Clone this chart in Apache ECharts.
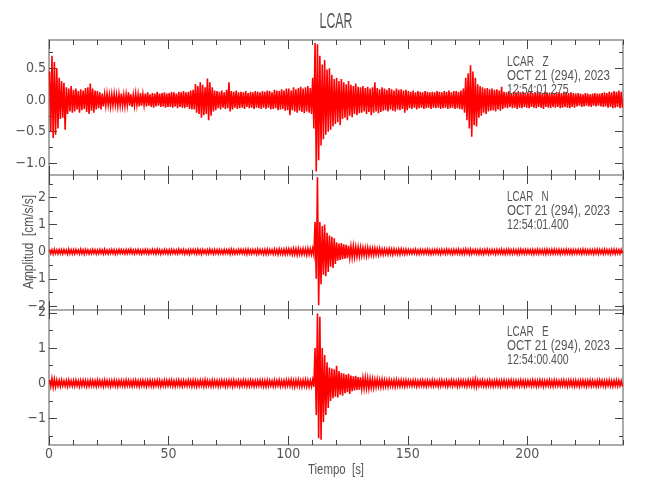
<!DOCTYPE html>
<html><head><meta charset="utf-8">
<script src="https://cdn.jsdelivr.net/npm/echarts@6/dist/echarts.min.js"></script>
<style>html,body{margin:0;padding:0;background:#fff}#c{width:650px;height:500px}</style>
</head><body><div id="c"></div>
<script>
// ---------- DATA (per 1-second bin: upper and lower envelope of the trace) ----------
const timeMin = 0, timeMax = 240;
const zHi = [
0.45,0.70,0.60,0.50,0.35,0.30,0.27,0.20,0.18,0.22,
0.16,0.18,0.14,0.17,0.15,0.19,0.20,0.26,0.18,0.15,
0.14,0.12,0.10,0.09,0.10,0.08,0.09,0.10,0.08,0.09,
0.10,0.08,0.09,0.12,0.09,0.08,0.10,0.09,0.11,0.09,
0.10,0.12,0.09,0.11,0.10,0.13,0.10,0.11,0.12,0.10,
0.11,0.13,0.12,0.10,0.13,0.12,0.14,0.12,0.13,0.15,
0.16,0.25,0.22,0.28,0.24,0.20,0.34,0.28,0.20,0.15,
0.14,0.13,0.15,0.12,0.16,0.28,0.14,0.13,0.15,0.12,
0.13,0.12,0.14,0.11,0.13,0.12,0.14,0.13,0.12,0.14,
0.13,0.15,0.14,0.12,0.16,0.15,0.14,0.17,0.15,0.18,
0.18,0.15,0.20,0.17,0.19,0.21,0.18,0.20,0.22,0.19,
0.35,0.90,0.88,0.70,0.56,0.63,0.48,0.50,0.40,0.33,
0.35,0.30,0.33,0.28,0.25,0.30,0.24,0.22,0.26,0.21,
0.20,0.22,0.19,0.21,0.18,0.20,0.28,0.19,0.17,0.20,
0.18,0.16,0.19,0.17,0.15,0.18,0.16,0.17,0.15,0.16,
0.14,0.13,0.15,0.12,0.14,0.13,0.12,0.14,0.13,0.12,
0.13,0.12,0.14,0.13,0.12,0.14,0.13,0.15,0.12,0.14,
0.14,0.13,0.15,0.18,0.35,0.42,0.55,0.45,0.35,0.25,
0.22,0.20,0.18,0.19,0.17,0.18,0.16,0.17,0.15,0.21,
0.13,0.12,0.14,0.11,0.13,0.12,0.14,0.12,0.13,0.11,
0.12,0.13,0.11,0.12,0.14,0.12,0.11,0.13,0.12,0.11,
0.12,0.11,0.13,0.12,0.11,0.12,0.13,0.11,0.12,0.11,
0.10,0.11,0.10,0.09,0.11,0.10,0.09,0.10,0.11,0.10,
0.10,0.11,0.12,0.11,0.13,0.12,0.14,0.13,0.15,0.13];
const zLo = [
-0.50,-0.60,-0.55,-0.45,-0.30,-0.28,-0.47,-0.22,-0.18,-0.20,
-0.18,-0.15,-0.20,-0.16,-0.14,-0.19,-0.22,-0.17,-0.20,-0.15,
-0.13,-0.15,-0.10,-0.09,-0.08,-0.10,-0.09,-0.08,-0.10,-0.09,
-0.09,-0.10,-0.08,-0.09,-0.11,-0.09,-0.08,-0.10,-0.09,-0.08,
-0.10,-0.09,-0.11,-0.12,-0.10,-0.09,-0.11,-0.10,-0.12,-0.11,
-0.11,-0.12,-0.10,-0.13,-0.11,-0.12,-0.13,-0.11,-0.14,-0.15,
-0.15,-0.20,-0.22,-0.28,-0.24,-0.22,-0.32,-0.25,-0.18,-0.16,
-0.13,-0.15,-0.12,-0.14,-0.13,-0.18,-0.15,-0.12,-0.14,-0.13,
-0.12,-0.14,-0.11,-0.13,-0.12,-0.14,-0.12,-0.13,-0.14,-0.12,
-0.14,-0.12,-0.15,-0.14,-0.13,-0.16,-0.15,-0.14,-0.17,-0.16,
-0.24,-0.16,-0.18,-0.20,-0.17,-0.19,-0.21,-0.18,-0.20,-0.22,
-0.45,-1.13,-0.95,-0.72,-0.62,-0.55,-0.50,-0.47,-0.42,-0.38,
-0.35,-0.40,-0.30,-0.28,-0.32,-0.25,-0.27,-0.22,-0.24,-0.21,
-0.20,-0.18,-0.22,-0.19,-0.24,-0.20,-0.18,-0.21,-0.19,-0.17,
-0.16,-0.18,-0.15,-0.17,-0.18,-0.15,-0.16,-0.14,-0.20,-0.16,
-0.13,-0.14,-0.12,-0.15,-0.13,-0.12,-0.14,-0.13,-0.12,-0.14,
-0.12,-0.13,-0.12,-0.14,-0.13,-0.12,-0.14,-0.13,-0.12,-0.14,
-0.13,-0.14,-0.15,-0.20,-0.32,-0.45,-0.58,-0.40,-0.42,-0.28,
-0.25,-0.20,-0.22,-0.18,-0.17,-0.16,-0.18,-0.15,-0.17,-0.14,
-0.12,-0.13,-0.11,-0.13,-0.12,-0.14,-0.12,-0.13,-0.11,-0.12,
-0.13,-0.11,-0.12,-0.13,-0.11,-0.12,-0.14,-0.11,-0.12,-0.13,
-0.11,-0.12,-0.11,-0.13,-0.12,-0.11,-0.12,-0.13,-0.11,-0.12,
-0.10,-0.09,-0.11,-0.10,-0.09,-0.10,-0.11,-0.09,-0.10,-0.09,
-0.10,-0.11,-0.10,-0.12,-0.11,-0.13,-0.12,-0.11,-0.13,-0.12];
const nHi = [
0.08,0.07,0.09,0.06,0.08,0.07,0.08,0.06,0.09,0.07,
0.07,0.08,0.06,0.09,0.07,0.08,0.07,0.06,0.08,0.07,
0.06,0.08,0.07,0.09,0.06,0.07,0.08,0.07,0.06,0.08,
0.07,0.06,0.08,0.07,0.09,0.06,0.07,0.08,0.06,0.07,
0.08,0.07,0.06,0.08,0.07,0.09,0.07,0.06,0.08,0.07,
0.07,0.08,0.07,0.06,0.09,0.07,0.08,0.06,0.07,0.08,
0.08,0.07,0.09,0.07,0.08,0.06,0.07,0.09,0.07,0.08,
0.07,0.08,0.06,0.08,0.07,0.08,0.09,0.07,0.06,0.08,
0.08,0.07,0.08,0.09,0.07,0.08,0.07,0.09,0.08,0.07,
0.08,0.09,0.08,0.07,0.09,0.08,0.10,0.08,0.09,0.10,
0.10,0.09,0.11,0.10,0.12,0.09,0.11,0.10,0.12,0.11,
0.12,1.10,2.75,1.10,0.95,1.00,0.70,0.60,0.55,0.50,
0.35,0.30,0.32,0.27,0.25,0.22,0.20,0.21,0.18,0.17,
0.16,0.15,0.14,0.15,0.13,0.12,0.13,0.11,0.12,0.10,
0.10,0.09,0.11,0.09,0.10,0.08,0.09,0.10,0.08,0.09,
0.08,0.07,0.08,0.09,0.07,0.08,0.07,0.08,0.09,0.07,
0.07,0.08,0.09,0.07,0.08,0.07,0.09,0.08,0.07,0.08,
0.08,0.09,0.07,0.08,0.10,0.08,0.09,0.07,0.08,0.07,
0.08,0.07,0.08,0.09,0.07,0.08,0.07,0.08,0.07,0.09,
0.07,0.08,0.09,0.07,0.08,0.07,0.08,0.09,0.07,0.08,
0.08,0.07,0.08,0.07,0.09,0.08,0.07,0.08,0.09,0.07,
0.08,0.09,0.07,0.08,0.07,0.08,0.09,0.07,0.08,0.07,
0.07,0.08,0.07,0.09,0.08,0.07,0.08,0.07,0.08,0.09,
0.08,0.07,0.09,0.08,0.07,0.08,0.09,0.08,0.07,0.08];
const nLo = [
-0.07,-0.09,-0.06,-0.08,-0.07,-0.08,-0.06,-0.09,-0.07,-0.08,
-0.08,-0.06,-0.08,-0.07,-0.09,-0.06,-0.08,-0.07,-0.06,-0.08,
-0.07,-0.06,-0.08,-0.07,-0.08,-0.06,-0.07,-0.09,-0.07,-0.06,
-0.06,-0.08,-0.07,-0.06,-0.07,-0.08,-0.06,-0.07,-0.08,-0.06,
-0.07,-0.08,-0.06,-0.07,-0.08,-0.06,-0.09,-0.07,-0.06,-0.08,
-0.08,-0.06,-0.07,-0.08,-0.06,-0.07,-0.08,-0.07,-0.09,-0.06,
-0.07,-0.08,-0.07,-0.09,-0.06,-0.08,-0.07,-0.06,-0.08,-0.07,
-0.08,-0.07,-0.08,-0.06,-0.07,-0.09,-0.07,-0.08,-0.07,-0.06,
-0.07,-0.08,-0.09,-0.07,-0.08,-0.07,-0.09,-0.08,-0.07,-0.09,
-0.09,-0.08,-0.07,-0.09,-0.08,-0.10,-0.08,-0.09,-0.10,-0.08,
-0.09,-0.11,-0.10,-0.12,-0.10,-0.11,-0.09,-0.12,-0.10,-0.11,
-0.12,-1.00,-1.97,-1.20,-0.85,-0.90,-0.75,-0.55,-0.60,-0.45,
-0.33,-0.30,-0.28,-0.26,-0.24,-0.22,-0.21,-0.19,-0.18,-0.17,
-0.15,-0.14,-0.15,-0.13,-0.12,-0.13,-0.11,-0.12,-0.10,-0.11,
-0.09,-0.10,-0.09,-0.11,-0.08,-0.09,-0.10,-0.08,-0.09,-0.08,
-0.07,-0.08,-0.07,-0.08,-0.09,-0.07,-0.08,-0.07,-0.08,-0.09,
-0.08,-0.07,-0.08,-0.09,-0.07,-0.08,-0.07,-0.08,-0.09,-0.07,
-0.07,-0.08,-0.09,-0.08,-0.07,-0.09,-0.08,-0.07,-0.08,-0.09,
-0.08,-0.09,-0.07,-0.08,-0.08,-0.07,-0.09,-0.08,-0.07,-0.08,
-0.09,-0.07,-0.08,-0.08,-0.07,-0.09,-0.08,-0.07,-0.08,-0.07,
-0.07,-0.08,-0.09,-0.07,-0.08,-0.07,-0.08,-0.09,-0.07,-0.08,
-0.08,-0.07,-0.08,-0.09,-0.07,-0.08,-0.07,-0.08,-0.09,-0.07,
-0.08,-0.07,-0.09,-0.07,-0.08,-0.08,-0.07,-0.09,-0.07,-0.08,
-0.07,-0.08,-0.07,-0.08,-0.09,-0.07,-0.08,-0.07,-0.08,-0.07];
const eHi = [
0.10,0.14,0.12,0.09,0.08,0.09,0.07,0.08,0.09,0.07,
0.08,0.09,0.07,0.08,0.09,0.08,0.07,0.09,0.08,0.07,
0.09,0.08,0.07,0.09,0.08,0.07,0.08,0.09,0.07,0.08,
0.08,0.07,0.09,0.08,0.07,0.08,0.09,0.07,0.08,0.09,
0.07,0.08,0.09,0.07,0.08,0.09,0.08,0.07,0.09,0.08,
0.08,0.09,0.07,0.08,0.09,0.07,0.08,0.07,0.09,0.08,
0.09,0.08,0.07,0.09,0.08,0.10,0.08,0.07,0.09,0.08,
0.08,0.07,0.09,0.08,0.07,0.09,0.08,0.09,0.07,0.08,
0.07,0.09,0.08,0.07,0.09,0.08,0.07,0.08,0.09,0.08,
0.08,0.09,0.08,0.07,0.09,0.08,0.09,0.07,0.08,0.09,
0.09,0.10,0.08,0.09,0.10,0.08,0.09,0.10,0.09,0.08,
0.10,1.00,1.98,1.89,1.00,0.80,0.60,0.45,0.42,0.40,
0.50,0.35,0.30,0.28,0.25,0.27,0.22,0.20,0.21,0.18,
0.17,0.15,0.16,0.14,0.13,0.12,0.11,0.12,0.10,0.11,
0.10,0.09,0.10,0.08,0.09,0.10,0.08,0.09,0.08,0.09,
0.08,0.07,0.09,0.08,0.07,0.08,0.09,0.07,0.08,0.07,
0.09,0.08,0.07,0.08,0.09,0.07,0.08,0.07,0.09,0.08,
0.07,0.08,0.09,0.08,0.07,0.09,0.08,0.10,0.12,0.09,
0.08,0.09,0.07,0.08,0.09,0.07,0.08,0.09,0.07,0.08,
0.09,0.07,0.08,0.09,0.07,0.08,0.07,0.09,0.08,0.07,
0.08,0.07,0.09,0.08,0.07,0.09,0.08,0.07,0.08,0.09,
0.07,0.09,0.08,0.07,0.08,0.09,0.07,0.08,0.09,0.07,
0.08,0.07,0.08,0.09,0.07,0.08,0.09,0.08,0.07,0.08,
0.09,0.08,0.07,0.08,0.09,0.07,0.08,0.09,0.08,0.07];
const eLo = [
-0.09,-0.11,-0.10,-0.08,-0.09,-0.07,-0.08,-0.09,-0.07,-0.08,
-0.08,-0.07,-0.09,-0.08,-0.07,-0.09,-0.08,-0.07,-0.08,-0.09,
-0.07,-0.08,-0.09,-0.07,-0.08,-0.09,-0.07,-0.08,-0.09,-0.07,
-0.08,-0.09,-0.07,-0.08,-0.09,-0.07,-0.08,-0.09,-0.07,-0.08,
-0.09,-0.07,-0.08,-0.09,-0.07,-0.08,-0.09,-0.07,-0.08,-0.07,
-0.07,-0.08,-0.09,-0.07,-0.08,-0.09,-0.07,-0.08,-0.07,-0.09,
-0.08,-0.09,-0.08,-0.07,-0.09,-0.08,-0.07,-0.09,-0.08,-0.07,
-0.09,-0.08,-0.07,-0.09,-0.08,-0.07,-0.09,-0.08,-0.07,-0.09,
-0.08,-0.07,-0.09,-0.08,-0.07,-0.09,-0.08,-0.07,-0.08,-0.09,
-0.09,-0.08,-0.07,-0.09,-0.08,-0.07,-0.09,-0.08,-0.09,-0.07,
-0.08,-0.09,-0.10,-0.08,-0.09,-0.10,-0.08,-0.09,-0.10,-0.09,
-0.10,-0.90,-1.56,-1.60,-1.10,-0.90,-0.70,-0.50,-0.42,-0.38,
-0.40,-0.32,-0.35,-0.28,-0.25,-0.30,-0.22,-0.20,-0.19,-0.18,
-0.16,-0.15,-0.14,-0.15,-0.12,-0.13,-0.11,-0.10,-0.11,-0.10,
-0.09,-0.10,-0.08,-0.09,-0.10,-0.08,-0.09,-0.08,-0.09,-0.08,
-0.07,-0.08,-0.07,-0.09,-0.08,-0.07,-0.08,-0.09,-0.07,-0.08,
-0.08,-0.07,-0.09,-0.08,-0.07,-0.08,-0.09,-0.07,-0.08,-0.07,
-0.09,-0.08,-0.07,-0.08,-0.09,-0.07,-0.08,-0.09,-0.10,-0.08,
-0.07,-0.08,-0.09,-0.07,-0.08,-0.09,-0.07,-0.08,-0.09,-0.07,
-0.08,-0.09,-0.07,-0.08,-0.09,-0.07,-0.08,-0.07,-0.09,-0.08,
-0.07,-0.08,-0.07,-0.09,-0.08,-0.07,-0.09,-0.08,-0.07,-0.08,
-0.09,-0.07,-0.08,-0.08,-0.07,-0.08,-0.09,-0.07,-0.08,-0.09,
-0.08,-0.09,-0.07,-0.08,-0.09,-0.07,-0.08,-0.07,-0.09,-0.08,
-0.07,-0.08,-0.09,-0.07,-0.08,-0.09,-0.07,-0.08,-0.07,-0.09];

// axis extents and ticks
const zRange = [-1.184, 0.947];
const nRange = [-2.15, 2.83];
const eRange = [-1.75, 2.08];
const xMajorTicks = [0, 50, 100, 150, 200];
const xMinorTicks = [0,10,20,30,40,50,60,70,80,90,100,110,120,130,140,150,160,170,180,190,200,210,220,230,240];
const zMajorTicks = [-1.0, -0.5, 0.0, 0.5];
const zMinorTicks = [-1.0, -0.75, -0.5, -0.25, 0.0, 0.25, 0.5, 0.75];
const nMajorTicks = [-2, -1, 0, 1, 2];
const nMinorTicks = [-2, -1.5, -1, -0.5, 0, 0.5, 1, 1.5, 2, 2.5];
const eMajorTicks = [-1, 0, 1, 2];
const eMinorTicks = [-1.5, -1, -0.5, 0, 0.5, 1, 1.5, 2];

// texts
const titleText = 'LCAR';
const xTitle = 'Tiempo  [s]';
const yTitle = 'Amplitud  [cm/s/s]';
const stationLines = [
  ['LCAR   Z', 'OCT 21 (294), 2023', '12:54:01.275'],
  ['LCAR   N', 'OCT 21 (294), 2023', '12:54:01.400'],
  ['LCAR   E', 'OCT 21 (294), 2023', '12:54:00.400']
];

// ---------- BUILD ----------
const GL = 49, GW = 574, GH = 135, GT = [40, 175, 310];
const FRAME = '#aaaaaa', TICK = '#444444', TXT = '#555555';
const SANS = 'Liberation Sans';
const NARROW = "'Liberation Sans Narrow','DejaVu Sans Condensed','Liberation Sans',sans-serif";

function trace(hi, lo) {
  const pts = [];
  for (let i = 0; i < hi.length; i++) {
    pts.push([timeMin + i + 0.25, hi[i]]);
    pts.push([timeMin + i + 0.75, lo[i]]);
  }
  return pts;
}
const minus = s => String(s).replace('-', '\u2212');

const grids = [], xAxes = [], yAxes = [], series = [];
const yDefs = [
  {range: zRange, major: zMajorTicks, minor: zMinorTicks, fmt: v => minus((+v).toFixed(1)), hi: zHi, lo: zLo},
  {range: nRange, major: nMajorTicks, minor: nMinorTicks, fmt: v => minus(Math.round(v)), hi: nHi, lo: nLo},
  {range: eRange, major: eMajorTicks, minor: eMinorTicks, fmt: v => minus(Math.round(v)), hi: eHi, lo: eLo}
];
const labelFont = {color: TXT, fontSize: 14, fontFamily: NARROW};

yDefs.forEach((d, g) => {
  grids.push({left: GL, top: GT[g], width: GW, height: GH, show: true, borderColor: FRAME, borderWidth: 2, backgroundColor: 'transparent'});
  const xa = (pos, ticks, len, showLab) => ({
    type: 'value', gridIndex: g, position: pos, min: timeMin, max: timeMax,
    axisLine: {show: false, onZero: false}, splitLine: {show: false},
    axisTick: {show: true, inside: true, length: len, customValues: ticks, lineStyle: {color: TICK, width: 1}},
    axisLabel: Object.assign({show: showLab, customValues: xMajorTicks, margin: 2}, labelFont)
  });
  xAxes.push(xa('bottom', xMajorTicks, 9, g === 2));
  xAxes.push(xa('bottom', xMinorTicks, 5, false));
  xAxes.push(xa('top', xMajorTicks, 9, false));
  xAxes.push(xa('top', xMinorTicks, 5, false));
  const ya = (pos, ticks, len, showLab) => ({
    type: 'value', gridIndex: g, position: pos, min: d.range[0], max: d.range[1],
    axisLine: {show: false, onZero: false}, splitLine: {show: false},
    axisTick: {show: true, inside: true, length: len, customValues: ticks, lineStyle: {color: TICK, width: 1}},
    axisLabel: Object.assign({show: showLab, customValues: d.major, margin: 3, formatter: d.fmt}, labelFont)
  });
  yAxes.push(ya('left', d.major, 8, true));
  yAxes.push(ya('left', d.minor, 4, false));
  yAxes.push(ya('right', d.major, 8, false));
  yAxes.push(ya('right', d.minor, 4, false));
  series.push({
    type: 'line', xAxisIndex: g * 4, yAxisIndex: g * 4, data: trace(d.hi, d.lo),
    showSymbol: false, symbol: 'none', sampling: null, animation: false, clip: true,
    lineStyle: {color: '#ff0000', width: 1.6, join: 'miter'}, itemStyle: {color: '#ff0000'}, z: 3
  });
});

// text fitting helper (condensed look of the original plotting font)
const mctx = document.createElement('canvas').getContext('2d');
function fit(text, size, target) {
  mctx.font = size + 'px ' + SANS;
  return target / mctx.measureText(text).width;
}
function gtext(text, x, y, size, target, align, rot) {
  return {
    type: 'text', x: x, y: y, rotation: rot || 0, scaleX: fit(text, size, target), scaleY: 1,
    silent: true, z: 10,
    style: {text: text, fontSize: size, fontFamily: SANS, fill: TXT,
      align: align, textAlign: align, verticalAlign: 'middle', textVerticalAlign: 'middle'}
  };
}
const graphics = [
  gtext(titleText, 336, 22, 22, 33, 'center'),
  gtext(xTitle, 336, 470, 15, 56, 'center'),
  gtext(yTitle, 29, 242, 15, 94, 'center', Math.PI / 2)
];
const lineTargets = [41.6, 103, 61.7];
stationLines.forEach((lines, g) => {
  lines.forEach((t, k) => {
    graphics.push(gtext(t, 507, GT[g] + 22 + k * 14.3, 14, lineTargets[k], 'left'));
  });
});

const chart = echarts.init(document.getElementById('c'), null, {renderer: 'canvas'});
chart.setOption({
  animation: false,
  backgroundColor: '#ffffff',
  grid: grids, xAxis: xAxes, yAxis: yAxes, series: series,
  graphic: graphics
});
</script>
</body></html>
